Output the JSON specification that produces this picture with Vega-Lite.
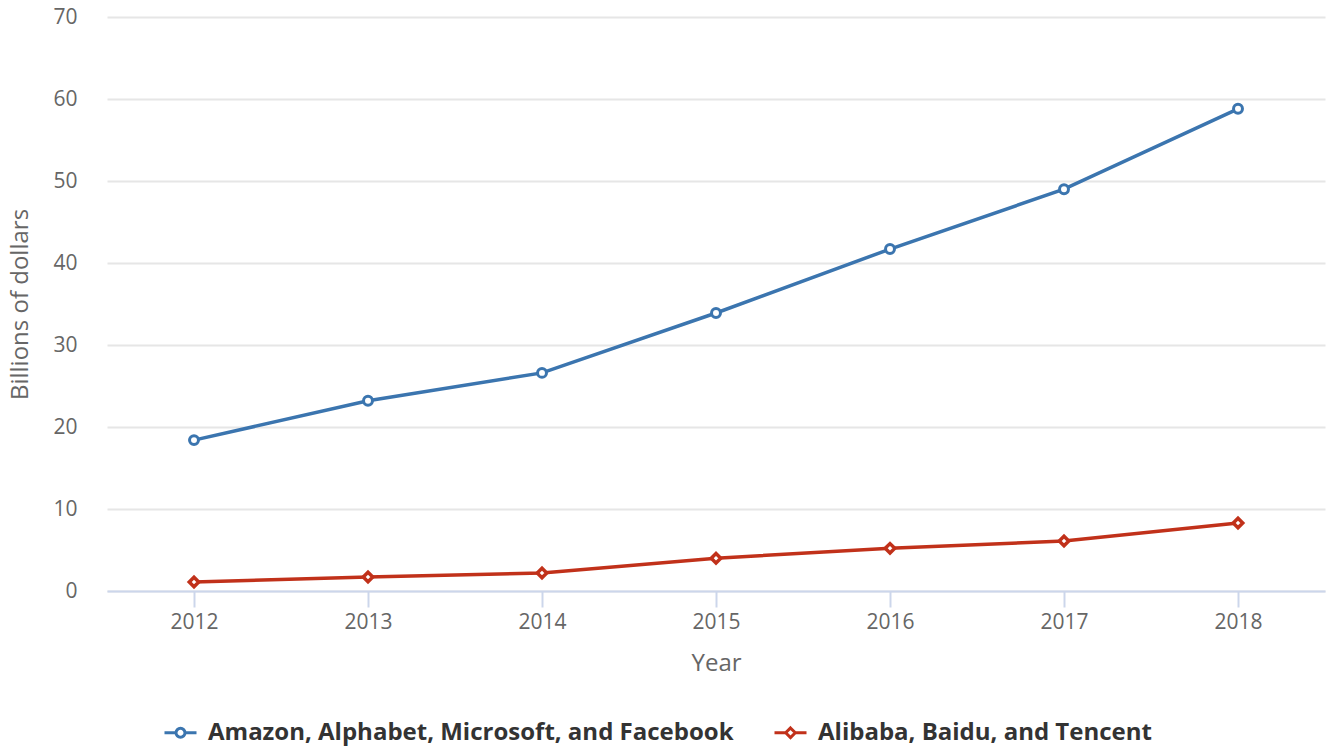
{
  "$schema": "https://vega.github.io/schema/vega-lite/v6.json",
  "autosize": {"type": "none"},
  "width": 1218,
  "height": 574,
  "padding": {"left": 107, "top": 17, "right": 5, "bottom": 159},
  "background": "white",
  "data": {
    "values": [
      {"year": "2012", "group": "Amazon, Alphabet, Microsoft, and Facebook", "value": 18.4},
      {"year": "2013", "group": "Amazon, Alphabet, Microsoft, and Facebook", "value": 23.2},
      {"year": "2014", "group": "Amazon, Alphabet, Microsoft, and Facebook", "value": 26.6},
      {"year": "2015", "group": "Amazon, Alphabet, Microsoft, and Facebook", "value": 33.9},
      {"year": "2016", "group": "Amazon, Alphabet, Microsoft, and Facebook", "value": 41.7},
      {"year": "2017", "group": "Amazon, Alphabet, Microsoft, and Facebook", "value": 49.0},
      {"year": "2018", "group": "Amazon, Alphabet, Microsoft, and Facebook", "value": 58.8},
      {"year": "2012", "group": "Alibaba, Baidu, and Tencent", "value": 1.1},
      {"year": "2013", "group": "Alibaba, Baidu, and Tencent", "value": 1.7},
      {"year": "2014", "group": "Alibaba, Baidu, and Tencent", "value": 2.2},
      {"year": "2015", "group": "Alibaba, Baidu, and Tencent", "value": 4.0},
      {"year": "2016", "group": "Alibaba, Baidu, and Tencent", "value": 5.2},
      {"year": "2017", "group": "Alibaba, Baidu, and Tencent", "value": 6.1},
      {"year": "2018", "group": "Alibaba, Baidu, and Tencent", "value": 8.3}
    ]
  },
  "encoding": {
    "x": {
      "field": "year", "type": "ordinal", "title": "Year",
      "scale": {"type": "point", "padding": 0.5},
      "axis": {
        "labelAngle": 0, "domain": true, "domainColor": "#ccd6eb", "domainWidth": 2,
        "ticks": true, "tickColor": "#ccd6eb", "tickSize": 16, "tickWidth": 2,
        "labelPadding": 4, "labelFontSize": 21, "labelColor": "#666666",
        "titleFontSize": 24, "titleColor": "#666666", "titleFontWeight": "normal", "titlePadding": 19,
        "grid": false
      }
    },
    "y": {
      "field": "value", "type": "quantitative", "title": "Billions of dollars",
      "scale": {"domain": [0, 70], "nice": false},
      "axis": {
        "values": [0, 10, 20, 30, 40, 50, 60, 70],
        "domain": false, "ticks": false, "labelPadding": 30,
        "labelFontSize": 21, "labelColor": "#666666",
        "titleFontSize": 24, "titleColor": "#666666", "titleFontWeight": "normal", "titlePadding": 20,
        "grid": true, "gridColor": "#e6e6e6", "gridWidth": 2
      }
    },
    "color": {
      "field": "group", "type": "nominal",
      "scale": {
        "domain": ["Amazon, Alphabet, Microsoft, and Facebook", "Alibaba, Baidu, and Tencent"],
        "range": ["#3b75af", "#c1311a"]
      },
      "legend": {
        "title": null, "orient": "none", "direction": "horizontal",
        "legendX": 56, "legendY": 698, "labelLimit": 0,
        "labelFontSize": 24, "labelFontWeight": "bold", "labelColor": "#333333",
        "labelOffset": 10, "columnPadding": 34, "symbolSize": 1024,
        "symbolStrokeWidth": 3,
        "encode": {
          "symbols": {
            "update": {
              "shape": {"signal": "datum.value === 'Alibaba, Baidu, and Tencent' ? 'M-1,0L-0.3,0M0.3,0L1,0M0,-0.3L0.3,0L0,0.3L-0.3,0Z' : 'M-1,0L-0.28,0M0.28,0L1,0M0.28,0A0.28,0.28 0 1,1 -0.28,0A0.28,0.28 0 1,1 0.28,0Z'"},
              "fill": {"value": "white"},
              "strokeWidth": {"value": 3}
            }
          }
        }
      }
    }
  },
  "layer": [
    {
      "mark": {"type": "line", "strokeWidth": 3.5},
      "encoding": {}
    },
    {
      "transform": [{"filter": "datum.group === 'Amazon, Alphabet, Microsoft, and Facebook'"}],
      "mark": {"type": "point", "shape": "circle", "filled": false, "fill": "white", "strokeWidth": 3, "opacity": 1, "size": 80}
    },
    {
      "transform": [{"filter": "datum.group === 'Alibaba, Baidu, and Tencent'"}],
      "mark": {"type": "point", "shape": "diamond", "filled": false, "fill": "white", "strokeWidth": 3.5, "opacity": 1, "size": 90}
    }
  ],
  "config": {
    "font": "Open Sans",
    "view": {"stroke": null}
  }
}
